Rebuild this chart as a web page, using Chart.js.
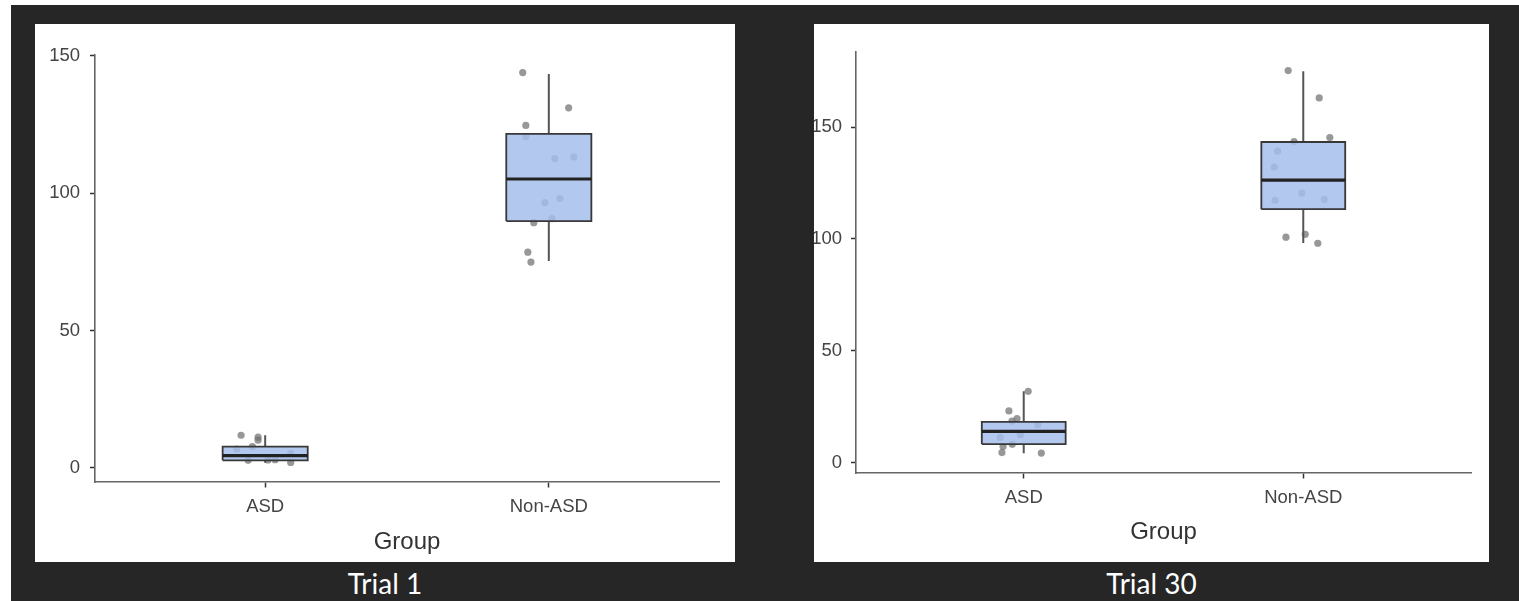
<!DOCTYPE html>
<html>
<head>
<meta charset="utf-8">
<script src="https://cdn.jsdelivr.net/npm/chart.js@4.4.1/dist/chart.umd.min.js"></script>
<style>
  body { margin: 0; background: #fff; width: 1519px; height: 601px; overflow: hidden; position: relative; }
  #frame { position: absolute; left: 11px; top: 5px; width: 1508px; height: 596px; background: #262626; }
  canvas { position: absolute; background: #fff; }
  #c1 { left: 35px; top: 24px; }
  #c30 { left: 814px; top: 24px; }
  .caption { position: absolute; top: 566px; height: 34px; line-height: 34px; color: #fff;
             font-family: Lato, "Open Sans", sans-serif; font-size: 28px; text-align: center; }
</style>
</head>
<body>
<div id="frame"></div>
<canvas id="c1" width="700" height="538"></canvas>
<canvas id="c30" width="675" height="538"></canvas>
<div class="caption" style="left:35px;width:700px">Trial 1</div>
<div class="caption" style="left:814px;width:675px">Trial 30</div>
<script>
const categories = ["ASD", "Non-ASD"];
const yTicksTrial1 = [0, 50, 100, 150];
const yTicksTrial30 = [0, 50, 100, 150];

// box stats: [lower whisker, Q1, median, Q3, upper whisker]
const trial1Asd = [1.9, 2.8, 4.5, 7.8, 11.9];
const trial1NonAsd = [75.3, 89.8, 105.1, 121.5, 143.3];
const trial30Asd = [4.3, 8.4, 14.1, 18.3, 32.0];
const trial30NonAsd = [98.2, 113.3, 126.3, 143.3, 174.9];

// individual points and their horizontal jitter (in category units)
const trial1AsdPts = [11.9, 11.2, 10.1, 6.9, 7.8, 2.8, 3.0, 5.3, 2.0, 2.9];
const trial1AsdJit = [-0.085, -0.025, -0.025, -0.1, -0.045, -0.06, 0.035, 0.09, 0.09, 0.01];
const trial1NonAsdPts = [143.8, 131, 124.6, 120.5, 112.5, 113.1, 96.5, 98, 89.2, 90.7, 78.5, 74.9];
const trial1NonAsdJit = [-0.092, 0.07, -0.081, -0.081, 0.021, 0.088, -0.014, 0.039, -0.053, 0.011, -0.074, -0.063];
const trial30AsdPts = [32.0, 23.2, 19.8, 18.7, 17.1, 12.6, 11.4, 8.3, 7.3, 4.6, 4.4];
const trial30AsdJit = [0.016, -0.053, -0.024, -0.042, 0.05, -0.012, -0.084, -0.041, -0.074, -0.078, 0.063];
const trial30NonAsdPts = [175.2, 163, 145.3, 143.5, 139.2, 132.1, 120.5, 117.3, 117.7, 102.1, 100.8, 98.1];
const trial30NonAsdJit = [-0.054, 0.057, 0.095, -0.033, -0.092, -0.104, -0.005, -0.101, 0.075, 0.007, -0.062, 0.052];

const tickFont = { family: "'Liberation Sans', Arial, sans-serif", size: 18.5 };
const boxHalf = 0.15;

function boxDatasets(pos, stats, values, jitter) {
  const [lo, q1, med, q3, hi] = stats;
  const w = boxHalf;
  return [
    {
      data: values.map((v, i) => ({ x: pos + jitter[i], y: v })),
      showLine: false, pointRadius: 3.6, pointBorderWidth: 0,
      pointBackgroundColor: "rgba(112,112,112,0.72)", order: 3
    },
    {
      data: [{ x: pos, y: lo }, { x: pos, y: q1 }, { x: pos, y: null }, { x: pos, y: q3 }, { x: pos, y: hi }],
      showLine: true, spanGaps: false, borderColor: "#555", borderWidth: 2, pointRadius: 0, order: 2
    },
    {
      data: [{ x: pos - w, y: q1 }, { x: pos + w, y: q1 }, { x: pos + w, y: q3 }, { x: pos - w, y: q3 }, { x: pos - w, y: q1 }],
      showLine: true, fill: "shape", backgroundColor: "rgba(165,190,236,0.85)",
      borderColor: "#383838", borderWidth: 1.8, borderJoinStyle: "miter", pointRadius: 0, order: 1
    },
    {
      data: [{ x: pos - w, y: med }, { x: pos + w, y: med }],
      showLine: true, borderColor: "#222", borderWidth: 3.2, pointRadius: 0, order: 0
    }
  ];
}

function makeChart(id, yMin, yMax, yTicks, datasets, geom) {
  return new Chart(document.getElementById(id), {
    type: "scatter",
    data: { datasets: datasets },
    options: {
      responsive: false,
      animation: false,
      events: [],
      layout: { padding: { top: geom.top, right: geom.right, left: 0, bottom: 0 } },
      plugins: { legend: { display: false }, tooltip: { enabled: false } },
      scales: {
        x: {
          type: "linear", min: 0.4, max: 2.6,
          afterBuildTicks: s => { s.ticks = categories.map((c, i) => ({ value: i + 1 })); },
          afterFit: s => { s.height = geom.xh; },
          ticks: { callback: (v, i) => categories[i], color: "#444", font: tickFont, padding: 8, maxRotation: 0, autoSkip: false },
          grid: { drawOnChartArea: false, tickLength: 5.5, tickColor: "#333", tickWidth: 1.5 },
          border: { color: "#666", width: 1.6 },
          title: { display: true, text: "Group", color: "#333",
                   font: { family: "'Liberation Sans', Arial, sans-serif", size: 24 },
                   padding: { top: 0, bottom: geom.tb } }
        },
        y: {
          min: yMin, max: yMax,
          afterBuildTicks: s => { s.ticks = yTicks.map(v => ({ value: v })); },
          afterFit: s => { s.width = geom.left; },
          ticks: { color: "#444", font: tickFont, padding: geom.tp },
          grid: { drawOnChartArea: false, tickLength: 5, tickColor: "#333", tickWidth: 1.5 },
          border: { color: "#666", width: 1.6 }
        }
      }
    }
  });
}

makeChart("c1", -5.1, 150.2, yTicksTrial1,
  boxDatasets(1, trial1Asd, trial1AsdPts, trial1AsdJit)
    .concat(boxDatasets(2, trial1NonAsd, trial1NonAsdPts, trial1NonAsdJit)),
  { top: 31, right: 16, left: 60, xh: 80, tb: 5, tp: 10 });

makeChart("c30", -4.5, 183.5, yTicksTrial30,
  boxDatasets(1, trial30Asd, trial30AsdPts, trial30AsdJit)
    .concat(boxDatasets(2, trial30NonAsd, trial30NonAsdPts, trial30NonAsdJit)),
  { top: 28, right: 18, left: 42, xh: 89, tb: 15, tp: 9 });
</script>
</body>
</html>
